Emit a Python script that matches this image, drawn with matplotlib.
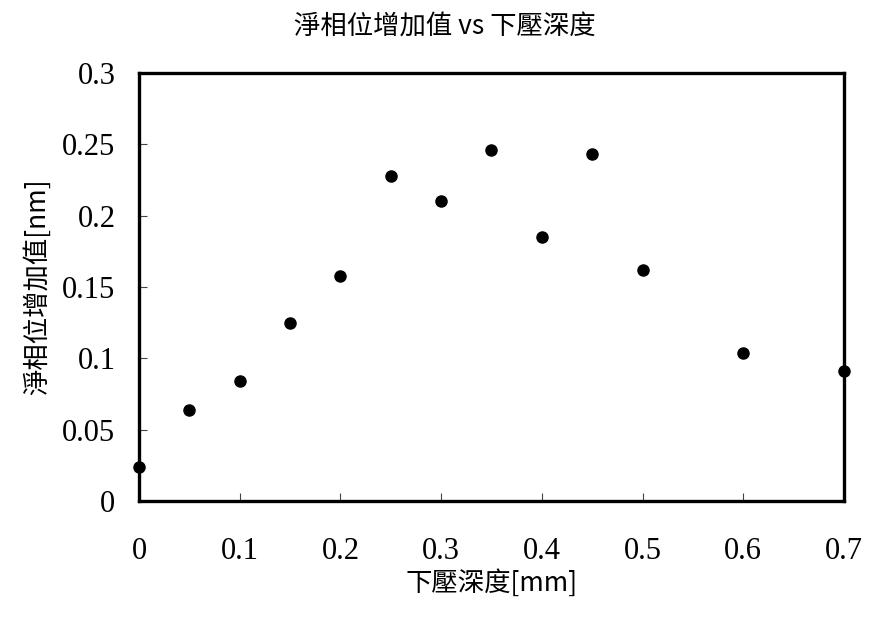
import matplotlib
matplotlib.use("Agg")
import matplotlib.pyplot as plt
from matplotlib.ticker import FixedLocator, FixedFormatter

# data
depth = [0.0, 0.05, 0.1, 0.15, 0.2, 0.25, 0.3, 0.35, 0.4, 0.45, 0.5, 0.6, 0.7]
phase = [0.024, 0.064, 0.084, 0.125, 0.158, 0.228, 0.210, 0.246, 0.185, 0.243, 0.162, 0.104, 0.091]

x_ticks = [0, 0.1, 0.2, 0.3, 0.4, 0.5, 0.6, 0.7]
x_labels = ["0", "0.1", "0.2", "0.3", "0.4", "0.5", "0.6", "0.7"]
y_ticks = [0, 0.05, 0.1, 0.15, 0.2, 0.25, 0.3]
y_labels = ["0", "0.05", "0.1", "0.15", "0.2", "0.25", "0.3"]

CJK = ["Noto Sans CJK TC", "DejaVu Sans"]
NUM = "Liberation Serif"

fig = plt.figure(figsize=(8.7, 6.21), dpi=100)
W, H = 870, 621
ax = fig.add_axes([139 / W, 1 - 501 / H, (844 - 139) / W, (501 - 73) / H])

ax.plot(depth, phase, linestyle="none", marker="o", markersize=8,
        color="black", clip_on=False, zorder=5)

ax.set_xlim(0, 0.7)
ax.set_ylim(0, 0.3)
ax.xaxis.set_major_locator(FixedLocator(x_ticks))
ax.xaxis.set_major_formatter(FixedFormatter(x_labels))
ax.yaxis.set_major_locator(FixedLocator(y_ticks))
ax.yaxis.set_major_formatter(FixedFormatter(y_labels))

for s in ax.spines.values():
    s.set_linewidth(2.4)
    s.set_color("black")

ax.tick_params(axis="both", direction="in", length=6, width=0.8,
               color="#444444", labelsize=22, labelcolor="black")
ax.tick_params(axis="x", pad=26)
ax.tick_params(axis="y", pad=17)
for lab in ax.get_xticklabels() + ax.get_yticklabels():
    lab.set_family(NUM)

ax.set_xlabel("下壓深度[mm]", fontsize=19, family=CJK, labelpad=2)
ax.set_ylabel("淨相位增加值[nm]", fontsize=19, family=CJK, labelpad=8)
fig.text(445 / W, 1 - 27 / H, "淨相位增加值 vs 下壓深度", fontsize=19,
         family=CJK, ha="center", va="center")

fig.savefig("out.png", dpi=100)
